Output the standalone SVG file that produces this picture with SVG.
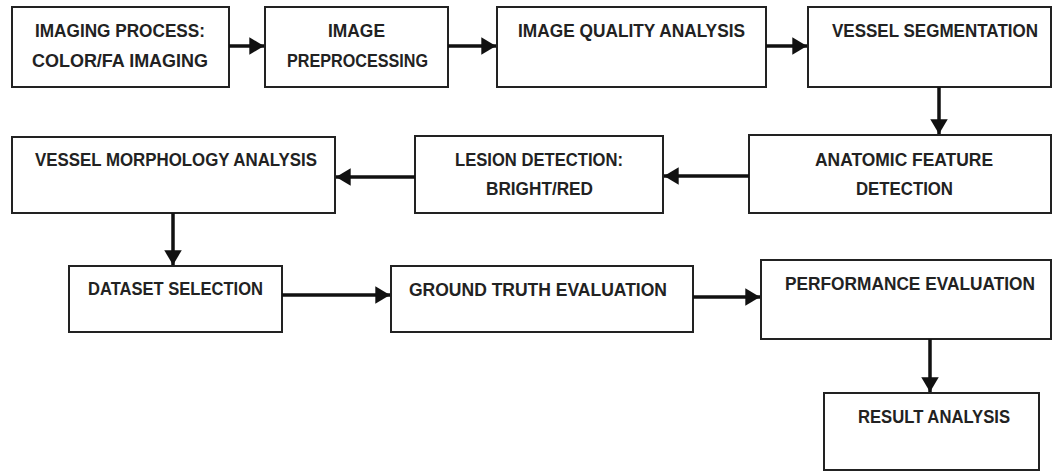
<svg xmlns="http://www.w3.org/2000/svg" width="1054" height="472" viewBox="0 0 1054 472">
<style>
.box{fill:#fff;stroke:#222;stroke-width:2}
.t{font-family:"Liberation Sans",Arial,sans-serif;font-weight:bold;font-size:18px;fill:#222}
.c{stroke:#111;stroke-width:3.5;fill:none;marker-end:url(#ah)}
</style>
<defs>
<marker id="ah" markerWidth="5" markerHeight="5" refX="4.2" refY="2.5" orient="auto" markerUnits="strokeWidth">
<path d="M0,0 L4.2,2.5 L0,5 Z" fill="#111"/>
</marker>
</defs>
<rect width="1054" height="472" fill="#fff"/>
<g id="n1"><rect class="box" x="12" y="7" width="217" height="80"/>
<text class="t" x="35" y="37" textLength="170" lengthAdjust="spacingAndGlyphs">IMAGING PROCESS:</text>
<text class="t" x="32" y="67" textLength="176" lengthAdjust="spacingAndGlyphs">COLOR/FA IMAGING</text></g>
<g id="n2"><rect class="box" x="265" y="7" width="183" height="80"/>
<text class="t" x="328" y="37" textLength="57" lengthAdjust="spacingAndGlyphs">IMAGE</text>
<text class="t" x="287" y="67" textLength="141" lengthAdjust="spacingAndGlyphs">PREPROCESSING</text></g>
<g id="n3"><rect class="box" x="497" y="7" width="269" height="80"/>
<text class="t" x="518" y="37" textLength="227" lengthAdjust="spacingAndGlyphs">IMAGE QUALITY ANALYSIS</text></g>
<g id="n4"><rect class="box" x="808" y="7" width="243" height="80"/>
<text class="t" x="832" y="37" textLength="206" lengthAdjust="spacingAndGlyphs">VESSEL SEGMENTATION</text></g>
<g id="n5"><rect class="box" x="749" y="135" width="302" height="78"/>
<text class="t" x="815" y="166" textLength="178" lengthAdjust="spacingAndGlyphs">ANATOMIC FEATURE</text>
<text class="t" x="856" y="195" textLength="97" lengthAdjust="spacingAndGlyphs">DETECTION</text></g>
<g id="n6"><rect class="box" x="415" y="136" width="248" height="77"/>
<text class="t" x="455" y="166" textLength="168" lengthAdjust="spacingAndGlyphs">LESION DETECTION:</text>
<text class="t" x="486" y="195" textLength="107" lengthAdjust="spacingAndGlyphs">BRIGHT/RED</text></g>
<g id="n7"><rect class="box" x="12" y="137" width="323" height="76"/>
<text class="t" x="35" y="166" textLength="282" lengthAdjust="spacingAndGlyphs">VESSEL MORPHOLOGY ANALYSIS</text></g>
<g id="n8"><rect class="box" x="69" y="266" width="213" height="66"/>
<text class="t" x="88" y="295" textLength="175" lengthAdjust="spacingAndGlyphs">DATASET SELECTION</text></g>
<g id="n9"><rect class="box" x="391" y="266" width="302" height="66"/>
<text class="t" x="409" y="296" textLength="258" lengthAdjust="spacingAndGlyphs">GROUND TRUTH EVALUATION</text></g>
<g id="n10"><rect class="box" x="761" y="260" width="290" height="79"/>
<text class="t" x="785" y="290" textLength="250" lengthAdjust="spacingAndGlyphs">PERFORMANCE EVALUATION</text></g>
<g id="n11"><rect class="box" x="824" y="393" width="215" height="77"/>
<text class="t" x="858" y="423" textLength="152" lengthAdjust="spacingAndGlyphs">RESULT ANALYSIS</text></g>
<g id="connectors">
<line class="c" x1="229" y1="46" x2="264" y2="46"/>
<line class="c" x1="448" y1="46" x2="496" y2="46"/>
<line class="c" x1="766" y1="46" x2="807" y2="46"/>
<line class="c" x1="939" y1="87" x2="939" y2="134"/>
<line class="c" x1="749" y1="176" x2="664" y2="176"/>
<line class="c" x1="415" y1="177" x2="336" y2="177"/>
<line class="c" x1="173" y1="213" x2="173" y2="265"/>
<line class="c" x1="282" y1="295" x2="390" y2="295"/>
<line class="c" x1="693" y1="297" x2="760" y2="297"/>
<line class="c" x1="930" y1="339" x2="930" y2="392"/>
</g>
</svg>
